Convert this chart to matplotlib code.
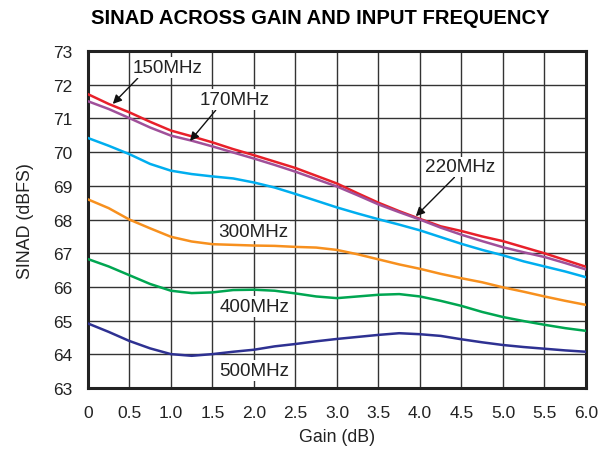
import matplotlib.pyplot as plt
import numpy as np

plt.rcParams['font.family'] = ['Liberation Sans', 'DejaVu Sans']

gain = [0, 0.25, 0.5, 0.75, 1.0, 1.25, 1.5, 1.75, 2.0, 2.25, 2.5, 2.75, 3.0,
        3.25, 3.5, 3.75, 4.0, 4.25, 4.5, 4.75, 5.0, 5.25, 5.5, 5.75, 6.0]
sinad_150 = [71.72, 71.43, 71.18, 70.9, 70.64, 70.47, 70.29, 70.09, 69.91, 69.72, 69.53, 69.3, 69.07,
             68.78, 68.5, 68.25, 68.02, 67.8, 67.66, 67.5, 67.36, 67.18, 67.0, 66.8, 66.6]
sinad_170 = [71.51, 71.28, 71.01, 70.73, 70.49, 70.34, 70.17, 69.99, 69.81, 69.62, 69.42, 69.2, 68.98,
             68.72, 68.45, 68.22, 68.0, 67.76, 67.55, 67.36, 67.18, 67.03, 66.89, 66.71, 66.52]
sinad_220 = [70.42, 70.19, 69.94, 69.65, 69.45, 69.35, 69.28, 69.22, 69.1, 68.95, 68.76, 68.56, 68.36,
             68.18, 68.01, 67.85, 67.68, 67.48, 67.28, 67.1, 66.94, 66.76, 66.61, 66.46, 66.29]
sinad_300 = [68.6, 68.34, 68.0, 67.74, 67.49, 67.35, 67.27, 67.25, 67.23, 67.22, 67.19, 67.17, 67.1,
             66.97, 66.82, 66.67, 66.54, 66.39, 66.26, 66.14, 65.99, 65.86, 65.72, 65.59, 65.47]
sinad_400 = [66.83, 66.61, 66.35, 66.09, 65.89, 65.82, 65.84, 65.91, 65.92, 65.89, 65.81, 65.72, 65.67,
             65.72, 65.77, 65.79, 65.72, 65.59, 65.44, 65.26, 65.11, 64.99, 64.88, 64.78, 64.7]
sinad_500 = [64.92, 64.67, 64.4, 64.18, 64.01, 63.96, 64.01, 64.08, 64.14, 64.24, 64.31, 64.39, 64.46,
             64.52, 64.58, 64.63, 64.6, 64.55, 64.45, 64.36, 64.28, 64.22, 64.17, 64.12, 64.08]

series = [
    (sinad_150, '#e8202a'),
    (sinad_170, '#a0509a'),
    (sinad_220, '#00aeef'),
    (sinad_300, '#f7901e'),
    (sinad_400, '#00a651'),
    (sinad_500, '#2e3192'),
]

fig = plt.figure(figsize=(6.06, 4.52), dpi=100)
ax = fig.add_axes([0.145, 0.139, 0.822, 0.746])

for vals, col in series:
    ax.plot(gain, vals, color=col, lw=1.8, solid_joinstyle='round', zorder=3)

ax.set_xlim(0, 6)
ax.set_ylim(63, 73)
ax.set_xticks(np.arange(0, 6.01, 0.5))
ax.set_xticklabels(['0', '0.5', '1.0', '1.5', '2.0', '2.5', '3.0', '3.5', '4.0',
                    '4.5', '5.0', '5.5', '6.0'])
ax.set_yticks(range(63, 74))
ax.grid(True, color='#333333', lw=1.0)
ax.tick_params(length=0, labelsize=12.5, colors='#222222')
ax.tick_params(axis='x', pad=12)
ax.tick_params(axis='y', pad=11)
for s in ax.spines.values():
    s.set_linewidth(2.2)
    s.set_color('#222222')

ax.set_xlabel('Gain (dB)', fontsize=12.8, labelpad=6, color='#222222')
ax.set_ylabel('SINAD (dBFS)', fontsize=12.8, labelpad=14, color='#222222')
fig.text(0.528, 0.958, 'SINAD ACROSS GAIN AND INPUT FREQUENCY', ha='center',
         va='center', fontsize=14.6, fontweight='bold')

box = dict(boxstyle='square,pad=0.1', fc='white', ec='none')
arrow = dict(arrowstyle='-|>', color='#111111', lw=1.0, mutation_scale=13,
             shrinkA=0, shrinkB=0)
fs = 13.6

ax.annotate('150MHz', xy=(0.3, 71.43), xytext=(0.96, 72.5), fontsize=fs,
            ha='center', va='center', bbox=box, zorder=5, color='#222222',
            arrowprops=dict(arrow, relpos=(0.1, 0.0)))
ax.annotate('170MHz', xy=(1.23, 70.33), xytext=(1.77, 71.55), fontsize=fs,
            ha='center', va='center', bbox=box, zorder=5, color='#222222',
            arrowprops=dict(arrow, relpos=(0.25, 0.0)))
ax.annotate('220MHz', xy=(3.95, 68.1), xytext=(4.48, 69.56), fontsize=fs,
            ha='center', va='center', bbox=box, zorder=5, color='#222222',
            arrowprops=dict(arrow, relpos=(0.45, 0.0)))
ax.text(1.99, 67.66, '300MHz', fontsize=fs, ha='center', va='center', bbox=box,
        zorder=5, color='#222222')
ax.text(2.01, 65.43, '400MHz', fontsize=fs, ha='center', va='center', bbox=box,
        zorder=5, color='#222222')
ax.text(2.01, 63.53, '500MHz', fontsize=fs, ha='center', va='center', bbox=box,
        zorder=5, color='#222222')

fig.savefig('out.png', dpi=100)
